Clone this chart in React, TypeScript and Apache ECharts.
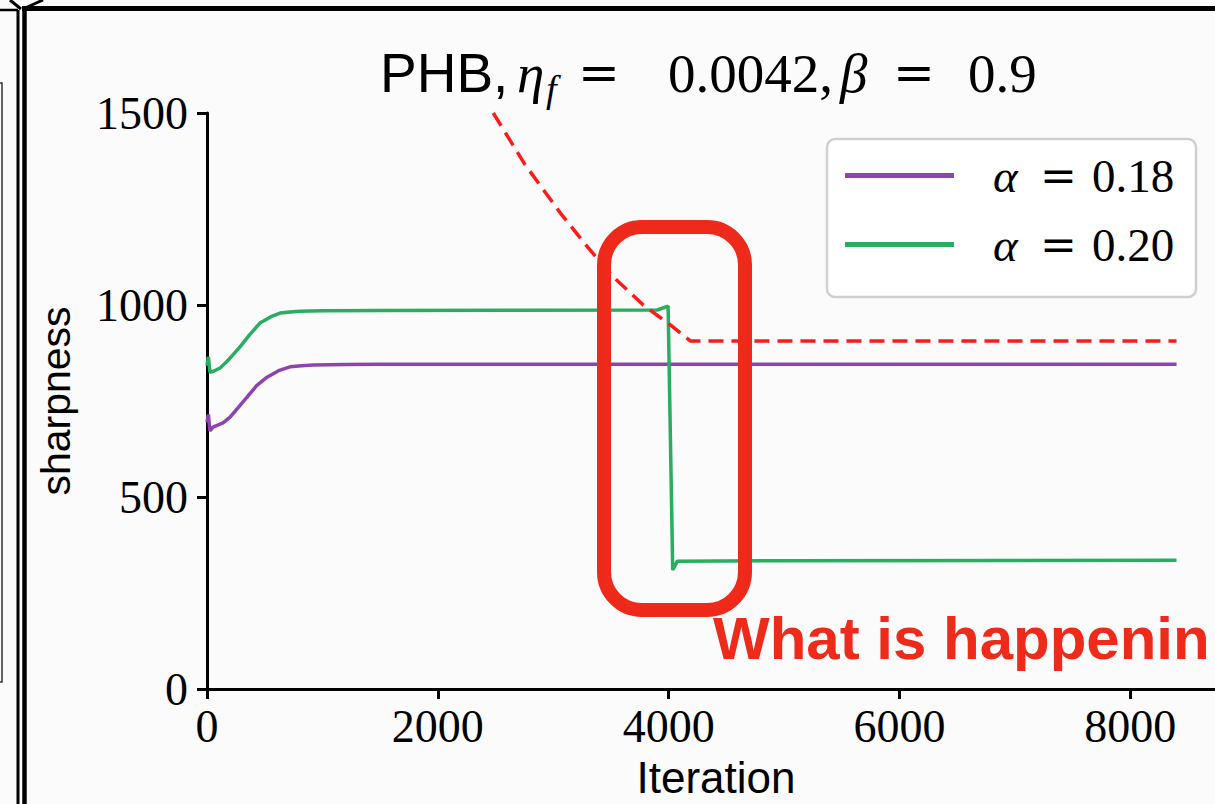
import React, { useEffect, useRef } from 'react';
import * as echarts from 'echarts';

// ---- data ----
const xTicks = [0, 2000, 4000, 6000, 8000];
const yTicks = [0, 500, 1000, 1500];
const xTickStep = 2000;
const xLastTick = 8000;
const xMax = 8820;
const yMax = 1500;

const purpleIter = [0, 12, 25, 52, 139, 200, 270, 347, 430, 520, 620, 720, 820, 919, 1200, 1500, 8400];
const purpleVal = [695, 715, 672, 682, 693, 708, 733, 760, 790, 812, 829, 839, 842, 844, 845, 846, 846];

const greenIter = [0, 12, 25, 60, 113, 170, 230, 286, 370, 459, 550, 633, 720, 806, 1000, 1500, 3900, 3995, 4035, 4075, 5000, 8400];
const greenVal = [842, 865, 825, 828, 836, 852, 872, 891, 923, 953, 969, 979, 982, 984, 985, 986, 987, 997, 310, 333, 334, 335];

const boundIter = [2480, 2750, 3060, 3300, 3520, 3780, 4014, 4190, 8400];
const boundVal = [1500, 1368, 1240, 1150, 1073, 1000, 948, 906, 906];

const seriesNames = ['α = 0.18', 'α = 0.20'];
const seriesColors = ['#8e44ad', '#27ae60'];
const boundColor = '#ff1a1a';
const noteText = 'What is happenin';

const zip = (xs: number[], ys: number[]) => xs.map((x, i) => [x, ys[i]]);

const SERIF = '"Liberation Serif", serif';
const SANS = '"Liberation Sans", sans-serif';
const MATHOP = '"DejaVu Serif", serif';

// plot area geometry
const GRID_LEFT = 207;
const GRID_TOP = 113;
const GRID_W = 1018;
const GRID_H = 576;

export default function App() {
  const ref = useRef<HTMLDivElement>(null);

  useEffect(() => {
    if (!ref.current) return;
    const chart = echarts.init(ref.current, undefined, { renderer: 'svg' });

    const base = { color: '#000', fontWeight: 'normal' as const };
    const tickGridW = (GRID_W * xLastTick) / xMax;
    const option: any = {
      animation: false,
      backgroundColor: '#fbfbfb',
      title: {
        left: 380,
        top: 38,
        padding: 0,
        text: '{s|PHB,}{m|η}{sub|f}{op|=}{n|0.0042,}{m2|β}{op2|=}{n2|0.9}',
        textStyle: {
          fontWeight: 'normal',
          rich: {
            s: { ...base, fontFamily: SANS, fontSize: 55, lineHeight: 70, width: 137 },
            m: { ...base, fontFamily: SERIF, fontStyle: 'italic', fontSize: 55, lineHeight: 70, width: 29 },
            sub: { ...base, fontFamily: SERIF, fontStyle: 'italic', fontSize: 38, lineHeight: 38, padding: [32, 0, 0, 0], width: 32 },
            op: { ...base, fontFamily: MATHOP, fontSize: 50, lineHeight: 70, width: 90 },
            n: { ...base, fontFamily: SERIF, fontSize: 55, lineHeight: 70, width: 172 },
            m2: { ...base, fontFamily: SERIF, fontStyle: 'italic', fontSize: 55, lineHeight: 70, width: 53 },
            op2: { ...base, fontFamily: MATHOP, fontSize: 50, lineHeight: 70, width: 75 },
            n2: { ...base, fontFamily: SERIF, fontSize: 55, lineHeight: 70 },
          },
        },
      },
      grid: [
        { left: GRID_LEFT, top: GRID_TOP, width: GRID_W, height: GRID_H, containLabel: false, outerBoundsMode: 'none' },
        // same plot area, used only to draw the x tick marks (0..8000)
        { left: GRID_LEFT, top: GRID_TOP, width: tickGridW, height: GRID_H, containLabel: false, outerBoundsMode: 'none' },
      ],
      legend: {
        data: seriesNames,
        orient: 'vertical',
        left: 845,
        top: 152,
        padding: 0,
        itemWidth: 109,
        itemHeight: 5,
        itemGap: 22,
        icon: 'rect',
        selectedMode: false,
        formatter: (name: string) => `{a|α}{op|=}{n|${name.split('= ')[1]}}`,
        textStyle: {
          rich: {
            a: { ...base, fontFamily: SERIF, fontStyle: 'italic', fontSize: 47, lineHeight: 50, padding: [0, 0, 0, 34], width: 47 },
            op: { ...base, fontFamily: MATHOP, fontSize: 44, lineHeight: 50, width: 52 },
            n: { ...base, fontFamily: SERIF, fontSize: 47, lineHeight: 50 },
          },
        },
        z: 6,
      },
      xAxis: [
        {
          type: 'value',
          gridIndex: 0,
          min: 0,
          max: xMax,
          name: 'Iteration',
          nameLocation: 'middle',
          nameGap: 68,
          nameTextStyle: { fontFamily: SANS, fontSize: 44, lineHeight: 40, color: '#000' },
          axisLine: { lineStyle: { color: '#000', width: 3 } },
          axisTick: { show: false },
          axisLabel: {
            margin: 14,
            fontFamily: SERIF,
            fontSize: 46,
            color: '#000',
            customValues: xTicks,
            formatter: (v: number) => String(v),
          },
          splitLine: { show: false },
        },
        {
          type: 'value',
          gridIndex: 1,
          min: 0,
          max: xLastTick,
          interval: xTickStep,
          axisLine: { show: false },
          axisTick: { show: true, length: 10, lineStyle: { color: '#000', width: 3 } },
          axisLabel: { show: false },
          splitLine: { show: false },
        },
      ],
      yAxis: [
        {
          type: 'value',
          gridIndex: 0,
          min: 0,
          max: yMax,
          name: 'sharpness',
          nameLocation: 'middle',
          nameRotate: 90,
          nameGap: 131,
          nameTextStyle: { fontFamily: SANS, fontSize: 41, color: '#000' },
          axisLine: { show: true, lineStyle: { color: '#000', width: 3 } },
          axisTick: { show: true, length: 10, customValues: yTicks, lineStyle: { color: '#000', width: 3 } },
          axisLabel: {
            margin: 19,
            fontFamily: SERIF,
            fontSize: 46,
            color: '#000',
            customValues: yTicks,
            formatter: (v: number) => String(v),
          },
          splitLine: { show: false },
        },
        {
          type: 'value',
          gridIndex: 1,
          min: 0,
          max: yMax,
          show: false,
        },
      ],
      series: [
        {
          name: seriesNames[0],
          type: 'line',
          data: zip(purpleIter, purpleVal),
          showSymbol: false,
          lineStyle: { color: seriesColors[0], width: 3.5 },
          itemStyle: { color: seriesColors[0] },
          z: 3,
        },
        {
          name: seriesNames[1],
          type: 'line',
          data: zip(greenIter, greenVal),
          showSymbol: false,
          lineStyle: { color: seriesColors[1], width: 3.5 },
          itemStyle: { color: seriesColors[1] },
          z: 3,
        },
        {
          name: 'bound',
          type: 'line',
          data: zip(boundIter, boundVal),
          showSymbol: false,
          lineStyle: { color: boundColor, width: 3.5, type: [15, 8] },
          itemStyle: { color: boundColor },
          z: 3,
        },
      ],
      graphic: [
        {
          type: 'rect',
          z: 5,
          shape: { x: 827, y: 139, width: 369, height: 158, r: 8 },
          style: { fill: 'rgba(255,255,255,0.85)', stroke: '#cfcfcf', lineWidth: 2.5 },
        },
        { type: 'line', z: 20, shape: { x1: 22, y1: 8.5, x2: 1215, y2: 8.5 }, style: { stroke: '#000', lineWidth: 5 } },
        { type: 'line', z: 20, shape: { x1: 24.5, y1: 6, x2: 24.5, y2: 804 }, style: { stroke: '#000', lineWidth: 4.5 } },
        { type: 'line', z: 20, shape: { x1: 18, y1: 10, x2: 18, y2: 804 }, style: { stroke: '#000', lineWidth: 3 } },
        { type: 'line', z: 20, shape: { x1: 0, y1: 10, x2: 18, y2: 10 }, style: { stroke: '#000', lineWidth: 2.5 } },
        { type: 'polyline', z: 20, shape: { points: [[10, 0], [21, 9]] }, style: { stroke: '#000', lineWidth: 3, fill: 'none' } },
        { type: 'polyline', z: 20, shape: { points: [[43, 0], [23, 9]] }, style: { stroke: '#000', lineWidth: 3, fill: 'none' } },
        { type: 'polyline', z: 20, shape: { points: [[0, 83], [2, 83], [2, 682], [0, 682]] }, style: { stroke: '#333', lineWidth: 1.5, fill: 'none' } },
        {
          type: 'rect',
          z: 10,
          shape: { x: 604, y: 227, width: 141, height: 383, r: 38 },
          style: { fill: 'none', stroke: '#ee2a1b', lineWidth: 14 },
        },
        {
          type: 'rect',
          z: 10,
          shape: { x: 601, y: 224, width: 147, height: 389, r: 41 },
          style: { fill: 'none', stroke: '#ee2a1b', lineWidth: 3, opacity: 0.7 },
        },
        {
          type: 'text',
          z: 10,
          x: 713,
          y: 638,
          style: {
            text: noteText,
            fontFamily: SANS,
            fontWeight: 'bold',
            fontSize: 60,
            fill: '#ee2a1b',
            align: 'left',
            verticalAlign: 'middle',
          },
        },
      ],
    };

    chart.setOption(option);
    return () => chart.dispose();
  }, []);

  return (
    <div
      ref={ref}
      style={{ position: 'fixed', left: 0, top: 0, width: '1215px', height: '804px' }}
    />
  );
}
